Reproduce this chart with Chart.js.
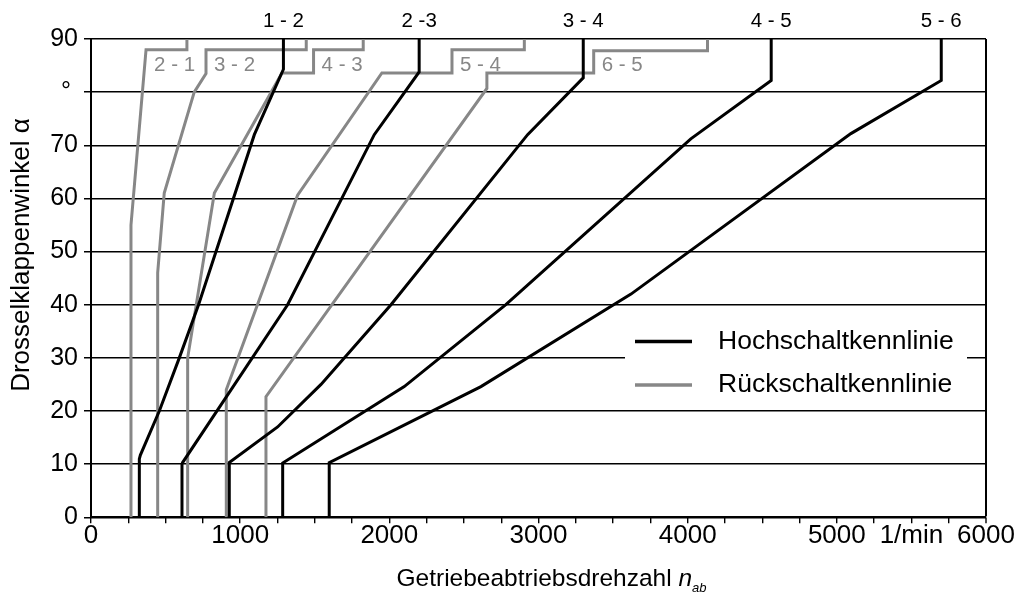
<!DOCTYPE html>
<html>
<head>
<meta charset="utf-8">
<script src="https://cdn.jsdelivr.net/npm/chart.js@4/dist/chart.umd.min.js"></script>
<style>
  html, body { margin: 0; padding: 0; background: #fff; }
  #wrap { width: 1018px; height: 594px; }
</style>
</head>
<body>
<div id="wrap"><canvas id="c" width="1018" height="594"></canvas></div>
<script>
// Shift maps of a 6-speed automatic: output speed [1/min] vs. throttle angle [°]
// Upshift curves (Hochschaltkennlinien), points as [rpm, angle]
const hoch12 = [[1290, 90], [1290, 84.3], [1095, 72], [721, 40], [592, 30], [458, 20], [331, 11.7], [324, 11], [324, 0]];
const hoch23 = [[2200, 90], [2200, 83.8], [1899, 72], [1318, 40], [614, 10.3], [610, 10], [610, 0]];
const hoch34 = [[3300, 90], [3300, 82.7], [2927, 72], [2011, 40], [1542, 25], [1251, 17], [927, 10.3], [927, 0]];
const hoch45 = [[4560, 90], [4560, 82.2], [4021, 71.2], [2781, 40], [2100, 24.6], [1285, 10.2], [1285, 0]];
const hoch56 = [[5700, 90], [5700, 82.2], [5094, 72.2], [3620, 42], [2614, 24.6], [1597, 10.3], [1597, 0]];

// Downshift curves (Rückschaltkennlinien)
const rueck21 = [[643, 90], [643, 88], [369, 88], [268, 55], [268, 0]];
const rueck32 = [[1443, 90], [1443, 88], [771, 88], [771, 83.5], [692, 80], [491, 61], [447, 46], [447, 0]];
const rueck43 = [[1825, 90], [1825, 88], [1492, 88], [1492, 83.6], [1280, 83.6], [827, 61], [648, 30], [648, 0]];
const rueck54 = [[2905, 90], [2905, 88], [2420, 88], [2420, 83.6], [1950, 83.6], [1385, 60.6], [907, 24], [907, 0]];
const rueck65 = [[4133, 90], [4133, 87.8], [3370, 87.8], [3370, 83.6], [2654, 83.6], [2654, 80.7], [1173, 22.7], [1173, 0]];

const hochCurves = [hoch12, hoch23, hoch34, hoch45, hoch56];
const hochNames = ['1 - 2', '2 -3', '3 - 4', '4 - 5', '5 - 6'];
const rueckCurves = [rueck21, rueck32, rueck43, rueck54, rueck65];
const rueckNames = ['2 - 1', '3 - 2', '4 - 3', '5 - 4', '6 - 5'];

const legendNames = ['Hochschaltkennlinie', 'Rückschaltkennlinie'];

// Axis tick labels
const xTickValues = [0, 1000, 2000, 3000, 4000, 5000, 5500, 6000];
const xTickTexts = ['0', '1000', '2000', '3000', '4000', '5000', '1/min', '6000'];
const yTickValues = [0, 10, 20, 30, 40, 50, 60, 70, 80, 90];
const yTickTexts = ['0', '10', '20', '30', '40', '50', '60', '70', '° ', '90'];

const FONT = 'Liberation Sans, Arial, Helvetica, sans-serif';
const BLACK = '#000000';
const GREY = '#878787';

const toPoints = arr => arr.map(p => ({ x: p[0], y: p[1] }));

const datasets = [];
rueckCurves.forEach((c, i) => datasets.push({
  label: rueckNames[i], data: toPoints(c), borderColor: GREY, borderWidth: 3,
  pointRadius: 0, tension: 0, fill: false, order: 2
}));
hochCurves.forEach((c, i) => datasets.push({
  label: hochNames[i], data: toPoints(c), borderColor: BLACK, borderWidth: 3,
  pointRadius: 0, tension: 0, fill: false, order: 1
}));

// Curve names, in-plot legend and both axis titles
const annotations = {
  id: 'annotations',
  afterDatasetsDraw(chart) {
    const { ctx, scales: { x, y } } = chart;
    ctx.save();
    // gear-pair names above the upshift curves
    ctx.fillStyle = BLACK;
    ctx.font = `20.5px ${FONT}`;
    ctx.textAlign = 'center';
    ctx.textBaseline = 'middle';
    hochCurves.forEach((c, i) => {
      ctx.fillText(hochNames[i], x.getPixelForValue(c[0][0]), 21);
    });
    // gear-pair names next to the downshift steps
    ctx.fillStyle = GREY;
    ctx.textAlign = 'left';
    rueckCurves.forEach((c, i) => {
      ctx.fillText(rueckNames[i], x.getPixelForValue(c[2][0]) + 8, y.getPixelForValue(85.0));
    });

    // legend box
    const bx = 625, by = 318, bw = 342, bh = 84;
    ctx.fillStyle = '#ffffff';
    ctx.fillRect(bx, by, bw, bh);
    const rows = [[BLACK, 341.5], [GREY, 385]];
    ctx.font = `26.5px ${FONT}`;
    ctx.textAlign = 'left';
    ctx.textBaseline = 'middle';
    rows.forEach(([col, ly], i) => {
      ctx.strokeStyle = col;
      ctx.lineWidth = 3.5;
      ctx.beginPath();
      ctx.moveTo(635, ly);
      ctx.lineTo(692, ly);
      ctx.stroke();
      ctx.fillStyle = BLACK;
      ctx.fillText(legendNames[i], 718, ly);
    });

    // y-axis title
    ctx.save();
    ctx.translate(22, 255);
    ctx.rotate(-Math.PI / 2);
    ctx.font = `26px ${FONT}`;
    ctx.textAlign = 'center';
    ctx.textBaseline = 'middle';
    ctx.fillStyle = BLACK;
    ctx.fillText('Drosselklappenwinkel α', 0, 0);
    ctx.restore();

    // x-axis title with italic n_ab
    ctx.fillStyle = BLACK;
    ctx.textBaseline = 'alphabetic';
    const main = 'Getriebeabtriebsdrehzahl ';
    ctx.font = `24.5px ${FONT}`;
    const w1 = ctx.measureText(main).width;
    ctx.font = `italic 24.5px ${FONT}`;
    const w2 = ctx.measureText('n').width;
    ctx.font = `italic 13px ${FONT}`;
    const w3 = ctx.measureText('ab').width;
    const cx = (x.left + x.right) / 2 + 13;
    const sx = cx - (w1 + w2 + w3) / 2;
    const base = 586;
    ctx.textAlign = 'left';
    ctx.font = `24.5px ${FONT}`;
    ctx.fillText(main, sx, base);
    ctx.font = `italic 24.5px ${FONT}`;
    ctx.fillText('n', sx + w1, base);
    ctx.font = `italic 13px ${FONT}`;
    ctx.fillText('ab', sx + w1 + w2, base + 6);
    ctx.restore();
  }
};

new Chart(document.getElementById('c'), {
  type: 'line',
  data: { datasets },
  plugins: [annotations],
  options: {
    responsive: false,
    animation: false,
    events: [],
    layout: { padding: { left: 0, right: 32, top: 39, bottom: 0 } },
    plugins: { legend: { display: false }, tooltip: { enabled: false } },
    scales: {
      x: {
        type: 'linear', min: 0, max: 6000,
        afterFit: s => { s.height = 76.7; },
        border: { color: BLACK, width: 2 },
        grid: {
          drawOnChartArea: true,
          color: c => (c.tick && c.tick.value === 6000) ? BLACK : 'rgba(0,0,0,0)',
          lineWidth: c => (c.tick && c.tick.value === 6000) ? 2 : 1.4,
          tickColor: BLACK, tickLength: 6, tickWidth: 1.4
        },
        ticks: {
          stepSize: 250, autoSkip: false, maxRotation: 0, minRotation: 0,
          color: BLACK, padding: 0,
          font: { family: FONT, size: 26, lineHeight: 1.0 },
          callback: v => { const i = xTickValues.indexOf(v); return i < 0 ? '' : xTickTexts[i]; }
        }
      },
      y: {
        type: 'linear', min: 0, max: 90,
        afterFit: s => { s.width = 91; },
        border: { color: BLACK, width: 2 },
        grid: { color: BLACK, lineWidth: 1.5, tickLength: 7 },
        ticks: {
          stepSize: 10, autoSkip: false, color: BLACK, padding: 6,
          font: { family: FONT, size: 25 },
          callback: v => { const i = yTickValues.indexOf(v); return i < 0 ? '' : yTickTexts[i]; }
        }
      }
    }
  }
});
</script>
</body>
</html>
